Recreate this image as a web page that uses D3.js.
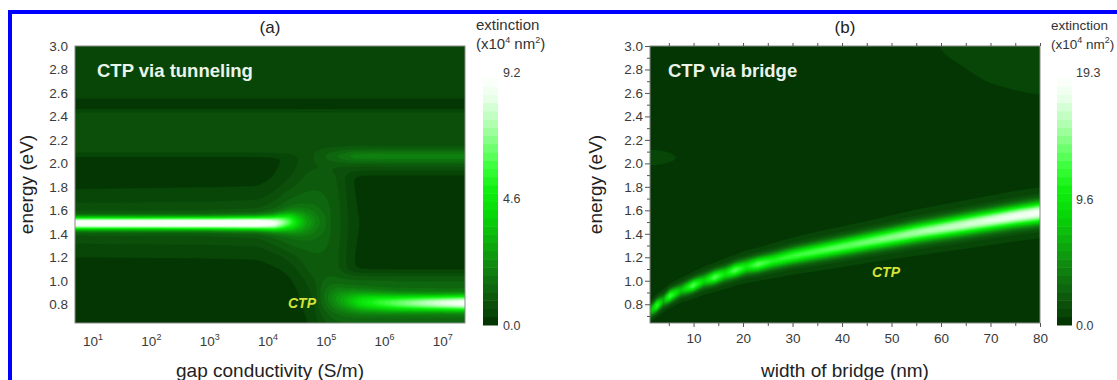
<!DOCTYPE html>
<html><head><meta charset="utf-8">
<script src="https://cdn.jsdelivr.net/npm/d3@7"></script>
<style>
body{margin:0;background:#fff;}
svg text{font-family:"Liberation Sans",Arial,Helvetica,sans-serif;}
</style>
</head><body>
<svg id="c" width="1117" height="380"></svg>
<script>
// ---------------- data ----------------
const energyTicks = [0.8, 1.0, 1.2, 1.4, 1.6, 1.8, 2.0, 2.2, 2.4, 2.6, 2.8, 3.0];
const condExponents = [1, 2, 3, 4, 5, 6, 7];
const widthTicks = [10, 20, 30, 40, 50, 60, 70, 80];
const cbarTicksA = [0.0, 4.6, 9.2];
const cbarTicksB = [0.0, 9.6, 19.3];
const maxA = 9.2, maxB = 19.3;

// Panel (a): background levels (rows = energy, cols = log10 conductivity)
const aBgX = [0.69, 4.0, 4.4, 4.6, 4.8, 5.0, 5.25, 5.4, 7.38];
const aBgE = [0.64, 0.9, 1.02, 1.1, 1.3, 1.75, 1.88, 1.96, 2.06, 2.09, 2.44, 2.465, 2.535, 2.56, 3.0];
const aBgV = [
  [0.2, 0.2, 0.2, 0.2, 0.25, 1.1, 1.1, 1.0, 1.0],
  [0.2, 0.2, 0.2, 0.25, 0.8, 1.1, 1.1, 1.0, 1.0],
  [0.2, 0.2, 0.2, 0.5, 1.1, 1.1, 1.1, 1.0, 1.0],
  [0.2, 0.2, 0.3, 0.9, 1.15, 1.15, 1.1, 0.15, 0.15],
  [0.2, 0.25, 0.8, 1.1, 1.15, 1.15, 1.1, 0.15, 0.15],
  [0.2, 0.25, 0.8, 1.1, 1.15, 1.15, 1.1, 0.15, 0.15],
  [0.2, 0.2, 0.5, 1.0, 1.1, 1.1, 1.0, 0.15, 0.15],
  [0.2, 0.2, 0.4, 0.85, 0.9, 0.9, 0.85, 0.75, 0.75],
  [0.2, 0.2, 0.35, 0.8, 0.8, 0.8, 0.8, 0.75, 0.75],
  [0.75, 0.75, 0.75, 0.8, 0.8, 0.8, 0.75, 0.75, 0.75],
  [0.75, 0.75, 0.75, 0.75, 0.75, 0.75, 0.75, 0.75, 0.75],
  [0.1, 0.1, 0.1, 0.1, 0.1, 0.1, 0.1, 0.1, 0.1],
  [0.1, 0.1, 0.1, 0.1, 0.1, 0.1, 0.1, 0.1, 0.1],
  [0.45, 0.45, 0.45, 0.45, 0.45, 0.45, 0.45, 0.45, 0.45],
  [0.45, 0.45, 0.45, 0.45, 0.45, 0.45, 0.45, 0.45, 0.45]
];
// Panel (a): upper mode (~1.49 eV)
const aUpX     = [0.69, 3.0, 3.8, 4.1, 4.35, 4.5, 4.65, 4.85, 5.1];
const aUpPeak  = [9.0, 9.2, 9.1, 7.5, 4.5, 2.5, 1.2, 0.4, 0.0];
const aUpE     = [1.49, 1.49, 1.49, 1.49, 1.50, 1.50, 1.50, 1.50, 1.49];
const aUpW     = [0.033, 0.033, 0.035, 0.04, 0.05, 0.06, 0.07, 0.08, 0.09];
const aUpSk    = [0.9, 0.9, 1.0, 1.1, 1.0, 0.8, 0.6, 0.4, 0.1];
const aUpSkW   = [0.14, 0.14, 0.14, 0.15, 0.16, 0.16, 0.16, 0.16, 0.16];
// Panel (a): CTP mode (~0.81 eV)
const aLoX     = [4.8, 5.1, 5.35, 5.6, 5.9, 6.2, 6.6, 7.0, 7.38];
const aLoPeak  = [0.0, 0.8, 1.6, 2.8, 3.8, 4.6, 5.6, 6.6, 7.4];
const aLoE     = [0.86, 0.85, 0.83, 0.82, 0.815, 0.81, 0.81, 0.81, 0.81];
const aLoW     = [0.1, 0.08, 0.065, 0.055, 0.05, 0.046, 0.044, 0.042, 0.042];
const aLoSk    = [0.0, 0.3, 0.6, 0.8, 0.8, 0.8, 0.8, 0.8, 0.8];
const aLoSkW   = [0.12, 0.12, 0.12, 0.12, 0.12, 0.12, 0.12, 0.12, 0.12];
// Panel (a): weak band near 2.06 eV
const aBdX     = [4.7, 5.0, 5.3, 5.5, 6.0, 7.38];
const aBdPeak  = [0.0, 0.45, 0.9, 1.2, 1.25, 1.25];
const aBdE     = [2.06, 2.06, 2.06, 2.06, 2.06, 2.06];
const aBdW     = [0.045, 0.045, 0.045, 0.045, 0.045, 0.045];

// Panel (b): background levels (rows = energy, cols = bridge width)
const bBgX = [1.2, 4, 7, 55, 62, 70, 80];
const bBgE = [0.64, 1.95, 2.05, 2.15, 2.5, 2.75, 3.0];
const bBgV = [
  [0.3, 0.3, 0.3, 0.3, 0.3, 0.3, 0.3],
  [0.35, 0.3, 0.3, 0.3, 0.3, 0.3, 0.3],
  [1.3, 1.05, 0.6, 0.3, 0.3, 0.3, 0.3],
  [0.35, 0.3, 0.3, 0.3, 0.3, 0.3, 0.3],
  [0.3, 0.3, 0.3, 0.3, 0.3, 0.38, 0.5],
  [0.3, 0.3, 0.3, 0.3, 0.48, 0.74, 0.95],
  [0.3, 0.3, 0.3, 0.42, 0.78, 0.98, 1.15]
];
// Panel (b): CTP via bridge mode
const bRX    = [1.2, 2.6, 3.9, 5.2, 7.5, 9.9, 12.1, 14.3, 16.4, 18.4, 20.7, 23, 26, 30, 35, 45, 55, 65, 75, 80];
const bRE    = [0.74, 0.79, 0.83, 0.87, 0.92, 0.96, 1.0, 1.03, 1.06, 1.09, 1.12, 1.14, 1.17, 1.21, 1.25, 1.33, 1.41, 1.48, 1.55, 1.58];
const bRPeak = [5, 10.5, 5, 11, 6, 11.5, 7, 11.5, 8, 11.5, 8.5, 11.5, 9.5, 10.5, 11, 12, 13.5, 15, 16.5, 17];
const bRW    = [0.035, 0.035, 0.035, 0.035, 0.035, 0.036, 0.037, 0.038, 0.039, 0.04, 0.041, 0.042, 0.043, 0.045, 0.047, 0.05, 0.053, 0.056, 0.058, 0.06];
const bRSk   = [1.0, 1.1, 1.1, 1.2, 1.2, 1.25, 1.3, 1.3, 1.35, 1.35, 1.4, 1.4, 1.45, 1.45, 1.5, 1.55, 1.6, 1.6, 1.6, 1.6];
const bRSkW  = [0.05, 0.05, 0.055, 0.055, 0.06, 0.065, 0.07, 0.07, 0.075, 0.075, 0.08, 0.08, 0.085, 0.09, 0.095, 0.1, 0.11, 0.115, 0.12, 0.12];

// colour map stops (fraction of maximum -> colour)
const cmapStops  = [0, 0.05, 0.1, 0.2, 0.3, 0.45, 0.55, 0.65, 0.8, 0.92, 1.0];
const cmapColors = ["#022e02", "#084608", "#0c540c", "#0f780f", "#0ea00e", "#08d808", "#10f010", "#40ff40", "#a8ffa8", "#e8ffe8", "#ffffff"];
const nLevels = 30;

// ---------------- helpers ----------------
function lerp1(xs, ys, x) {
  const n = xs.length;
  if (x <= xs[0]) return ys[0];
  if (x >= xs[n - 1]) return ys[n - 1];
  const i = d3.bisectRight(xs, x) - 1;
  const t = (x - xs[i]) / (xs[i + 1] - xs[i]);
  return ys[i] + (ys[i + 1] - ys[i]) * t;
}
function grid2(xs, es, rows, x, e) {
  const col = rows.map(r => lerp1(xs, r, x));
  return lerp1(es, col, e);
}
function mode(m, x, e) {
  const p = lerp1(m.x, m.peak, x), c = lerp1(m.x, m.e, x), w = lerp1(m.x, m.w, x);
  const d = e - c;
  let v = p * Math.exp(-0.5 * d * d / (w * w));
  if (m.sk) {
    const s = lerp1(m.x, m.sk, x), sw = lerp1(m.x, m.skw, x);
    v += s * Math.exp(-0.5 * d * d / (sw * sw));
  }
  return v;
}
const cmap = d3.scaleLinear().domain(cmapStops).range(cmapColors).interpolate(d3.interpolateRgb).clamp(true);

const modesA = [
  {x: aUpX, peak: aUpPeak, e: aUpE, w: aUpW, sk: aUpSk, skw: aUpSkW},
  {x: aLoX, peak: aLoPeak, e: aLoE, w: aLoW, sk: aLoSk, skw: aLoSkW},
  {x: aBdX, peak: aBdPeak, e: aBdE, w: aBdW}
];
const modesB = [
  {x: bRX, peak: bRPeak, e: bRE, w: bRW, sk: bRSk, skw: bRSkW}
];

const svg = d3.select("#c");

// blue frame
svg.append("rect").attr("x", 10).attr("y", 12).attr("width", 1200).attr("height", 500)
  .attr("fill", "none").attr("stroke", "#0000ff").attr("stroke-width", 4);

const yE = d3.scaleLinear().domain([0.64, 3.0]).range([323, 46]);

function drawPanel(cfg) {
  const {x0, x1, y0, y1, xScale, toParam, bg, modes, max, id, blurX, blurY} = cfg;
  const W = x1 - x0, H = y1 - y0;
  const nx = Math.round(W), ny = Math.round(H);
  const base = new Float64Array(nx * ny);
  const params = [], energies = [];
  for (let i = 0; i < nx; i++) params.push(toParam(xScale.invert(x0 + (i + 0.5) * W / nx)));
  for (let j = 0; j < ny; j++) energies.push(yE.invert(y0 + (j + 0.5) * H / ny));
  for (let j = 0; j < ny; j++)
    for (let i = 0; i < nx; i++) base[i + j * nx] = bg(params[i], energies[j]);
  if (d3.blur2) d3.blur2({data: base, width: nx, height: ny}, blurX, blurY);
  const vals = new Float64Array(nx * ny);
  for (let j = 0; j < ny; j++)
    for (let i = 0; i < nx; i++) {
      let v = base[i + j * nx];
      for (const m of modes) v += mode(m, params[i], energies[j]);
      vals[i + j * nx] = Math.min(max, v);
    }
  const step = max / nLevels;
  const thr = d3.range(1, nLevels).map(k => k * step);
  const contours = d3.contours().size([nx, ny]).thresholds(thr)(vals);
  const path = d3.geoPath(d3.geoTransform({
    point(x, y) { this.stream.point(x0 + x * W / nx, y0 + y * H / ny); }
  }));
  svg.append("clipPath").attr("id", id).append("rect")
    .attr("x", x0).attr("y", y0).attr("width", W).attr("height", H);
  const g = svg.append("g").attr("clip-path", `url(#${id})`);
  g.append("rect").attr("x", x0).attr("y", y0).attr("width", W).attr("height", H)
    .attr("fill", cmap(0.5 / nLevels));
  g.selectAll("path.c").data(contours).join("path")
    .attr("d", path)
    .attr("fill", d => cmap((d.value + 0.5 * step) / max))
    .attr("stroke", d => cmap((d.value + 0.5 * step) / max))
    .attr("stroke-width", 0.4);
  svg.append("rect").attr("x", x0).attr("y", y0).attr("width", W).attr("height", H)
    .attr("fill", "none").attr("stroke", "#8a8a8a").attr("stroke-width", 1);
}

// ---------- panel (a) ----------
const xA = d3.scaleLog().domain([Math.pow(10, 0.69), Math.pow(10, 7.38)]).range([75, 465]);
drawPanel({
  x0: 75, x1: 465, y0: 46, y1: 323, xScale: xA, toParam: v => Math.log10(v), max: maxA, id: "clipA",
  bg: (p, e) => grid2(aBgX, aBgE, aBgV, p, e), modes: modesA, blurX: 8, blurY: 2
});
// ---------- panel (b) ----------
const xB = d3.scaleLinear().domain([1.2, 80]).range([650, 1040]);
drawPanel({
  x0: 650, x1: 1040, y0: 46, y1: 323, xScale: xB, toParam: v => v, max: maxB, id: "clipB",
  bg: (p, e) => grid2(bBgX, bBgE, bBgV, p, e), modes: modesB, blurX: 8, blurY: 3
});

const tickCol = "#3a3a3a";
const tickFont = 13.5;
// (a) y tick labels (no tick marks)
svg.append("g").selectAll("text").data(energyTicks).join("text")
  .attr("x", 68).attr("y", d => yE(d)).attr("dy", "0.36em")
  .attr("text-anchor", "end").attr("font-size", tickFont).attr("fill", tickCol)
  .text(d => d.toFixed(1));
// (a) x tick labels 10^n
const xa = svg.append("g").selectAll("text").data(condExponents).join("text")
  .attr("x", d => xA(Math.pow(10, d))).attr("y", 346)
  .attr("text-anchor", "middle").attr("font-size", tickFont).attr("fill", tickCol);
xa.append("tspan").text("10");
xa.append("tspan").attr("dy", -6).attr("font-size", 9).text(d => d);

// (b) axes with ticks
svg.append("g").attr("transform", "translate(650,0)")
  .call(d3.axisLeft(yE).tickValues(energyTicks).tickSize(5).tickPadding(2).tickFormat(d3.format(".1f")));
svg.append("g").attr("transform", "translate(650,0)")
  .call(d3.axisLeft(yE).tickValues([0.7, 0.9, 1.1, 1.3, 1.5, 1.7, 1.9, 2.1, 2.3, 2.5, 2.7, 2.9]).tickSize(3).tickFormat(""));
svg.append("g").attr("transform", "translate(0,323)")
  .call(d3.axisBottom(xB).tickValues(widthTicks).tickSize(4).tickPadding(6));
svg.append("g").attr("transform", "translate(0,323)")
  .call(d3.axisBottom(xB).tickValues([5, 15, 25, 35, 45, 55, 65, 75]).tickSize(3).tickFormat(""));
svg.append("g").attr("transform", "translate(0,46)")
  .call(d3.axisTop(xB).tickValues([5, 10, 15, 20, 25, 30, 35, 40, 45, 50, 55, 60, 65, 70, 75, 80]).tickSize(3).tickFormat(""));
svg.selectAll(".domain").remove();
svg.selectAll(".tick line").attr("stroke", "#555");
svg.selectAll(".tick text").attr("font-size", tickFont).attr("fill", tickCol)
  .attr("font-family", '"Liberation Sans",Arial,sans-serif');

// axis titles
function axisTitle(x, y, txt, rot) {
  const t = svg.append("text").attr("font-size", 19).attr("fill", "#222").attr("text-anchor", "middle").text(txt);
  if (rot) t.attr("transform", `translate(${x},${y}) rotate(-90)`); else t.attr("x", x).attr("y", y);
}
axisTitle(33, 184.5, "energy (eV)", true);
axisTitle(602, 184.5, "energy (eV)", true);
axisTitle(270, 377, "gap conductivity (S/m)");
axisTitle(845, 377, "width of bridge (nm)");
svg.append("text").attr("x", 270).attr("y", 33).attr("text-anchor", "middle").attr("font-size", 17).attr("fill", "#222").text("(a)");
svg.append("text").attr("x", 845).attr("y", 33).attr("text-anchor", "middle").attr("font-size", 17).attr("fill", "#222").text("(b)");

// in-plot labels
svg.append("text").attr("x", 97).attr("y", 77).attr("font-size", 18.5).attr("font-weight", "bold").attr("fill", "#eaf4ea").text("CTP via tunneling");
svg.append("text").attr("x", 668).attr("y", 77).attr("font-size", 18.5).attr("font-weight", "bold").attr("fill", "#eaf4ea").text("CTP via bridge");
svg.append("text").attr("x", 302).attr("y", 308).attr("text-anchor", "middle").attr("font-size", 14).attr("font-weight", "bold").attr("font-style", "italic").attr("fill", "#d6e23a").text("CTP");
svg.append("text").attr("x", 886).attr("y", 277).attr("text-anchor", "middle").attr("font-size", 14).attr("font-weight", "bold").attr("font-style", "italic").attr("fill", "#d6e23a").text("CTP");

// colour bars
function colorbar(bx, lx, max, ticks, tx, fs) {
  const cs = d3.scaleLinear().domain([0, max]).range([325, 78]);
  const step = max / nLevels;
  svg.append("g").selectAll("rect").data(d3.range(nLevels)).join("rect")
    .attr("x", bx).attr("width", 15)
    .attr("y", k => cs((k + 1) * step)).attr("height", k => cs(k * step) - cs((k + 1) * step) + 0.5)
    .attr("fill", k => cmap((k + 0.5) / nLevels));
  const lab = d3.scaleLinear().domain([0, max]).range([325, 72]);
  svg.append("g").selectAll("text").data(ticks).join("text")
    .attr("x", lx).attr("y", d => lab(d)).attr("dy", "0.36em")
    .attr("font-size", 12.5).attr("fill", tickCol).text(d => d.toFixed(1));
  svg.append("text").attr("x", tx).attr("y", 30).attr("font-size", fs).attr("fill", "#333").text("extinction");
  const t2 = svg.append("text").attr("x", tx).attr("y", 49).attr("font-size", fs).attr("fill", "#333");
  t2.append("tspan").text("(x10");
  t2.append("tspan").attr("dy", -6).attr("font-size", 9).text("4");
  t2.append("tspan").attr("dy", 6).text(" nm");
  t2.append("tspan").attr("dy", -6).attr("font-size", 9).text("2");
  t2.append("tspan").attr("dy", 6).text(")");
}
colorbar(483, 503, maxA, cbarTicksA, 476, 15);
colorbar(1057, 1076, maxB, cbarTicksB, 1051, 13.5);
</script>
</body></html>
